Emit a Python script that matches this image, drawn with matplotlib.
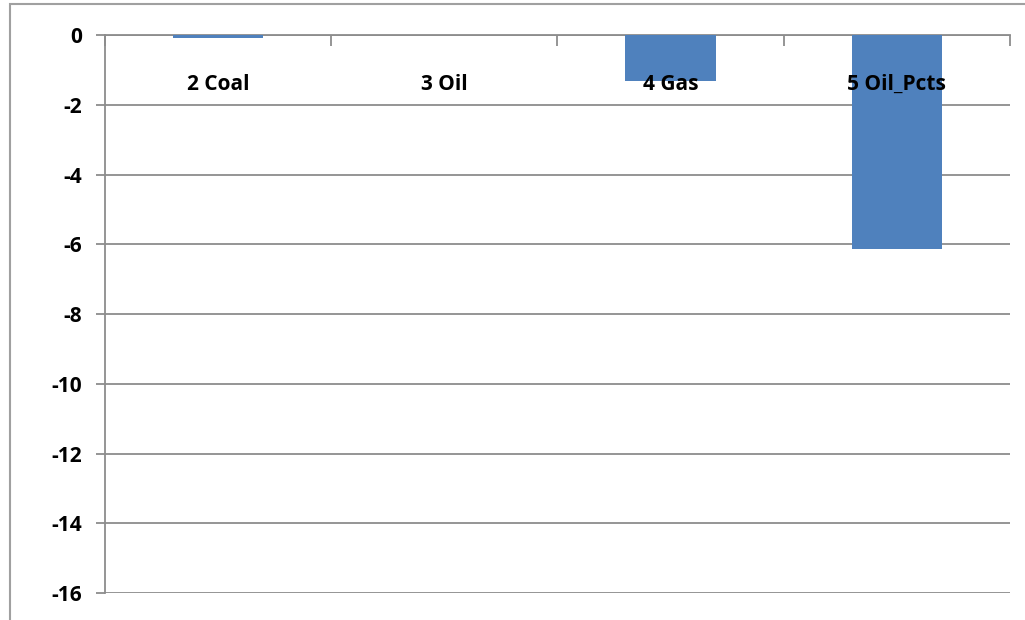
import matplotlib.pyplot as plt
from matplotlib.patches import Rectangle

# data
categories = ['2 Coal', '3 Oil', '4 Gas', '5 Oil_Pcts']
values = [-0.08, 0.0, -1.33, -6.13]
yticks = [0, -2, -4, -6, -8, -10, -12, -14, -16]

grid_color = '#8c8c8c'
font = ['Open Sans', 'DejaVu Sans']

fig = plt.figure(figsize=(10.25, 6.2), dpi=100)
ax = fig.add_axes([0.1024, 0.0435, 0.883, 0.9])

# outer chart frame (cut off on right and bottom like the original)
fig.patches.append(Rectangle((0.0098, -0.05), 1.1, 1.043, transform=fig.transFigure,
                             fill=False, edgecolor='#a0a0a0', linewidth=1.5))

x = list(range(len(categories)))
ax.bar(x, values, width=0.4, color='#4F81BD', zorder=3)

ax.set_xlim(-0.5, len(categories) - 0.5)
ax.set_ylim(-16, 0)
ax.set_yticks(yticks)
ax.set_yticklabels([str(v) for v in yticks], fontsize=15, fontweight='bold', family=font)
ax.yaxis.grid(True, color=grid_color, linewidth=1.3, zorder=0)
ax.tick_params(axis='y', length=6.5, width=1.3, color=grid_color, pad=10)

# category axis sits at y=0 with ticks between categories
ax.set_xticks([i - 0.5 for i in range(len(categories) + 1)])
ax.set_xticklabels([])
ax.xaxis.set_ticks_position('top')
ax.tick_params(axis='x', direction='in', length=8, width=1.3, color=grid_color)
for i, name in enumerate(categories):
    ax.text(i, -1.42, name, ha='center', va='center', fontsize=15, fontweight='bold',
            family=font, zorder=4)

for side in ['right', 'bottom']:
    ax.spines[side].set_visible(False)
ax.spines['left'].set_color(grid_color)
ax.spines['left'].set_linewidth(1.3)
ax.spines['top'].set_color(grid_color)
ax.spines['top'].set_linewidth(1.3)

plt.savefig('out.png')
